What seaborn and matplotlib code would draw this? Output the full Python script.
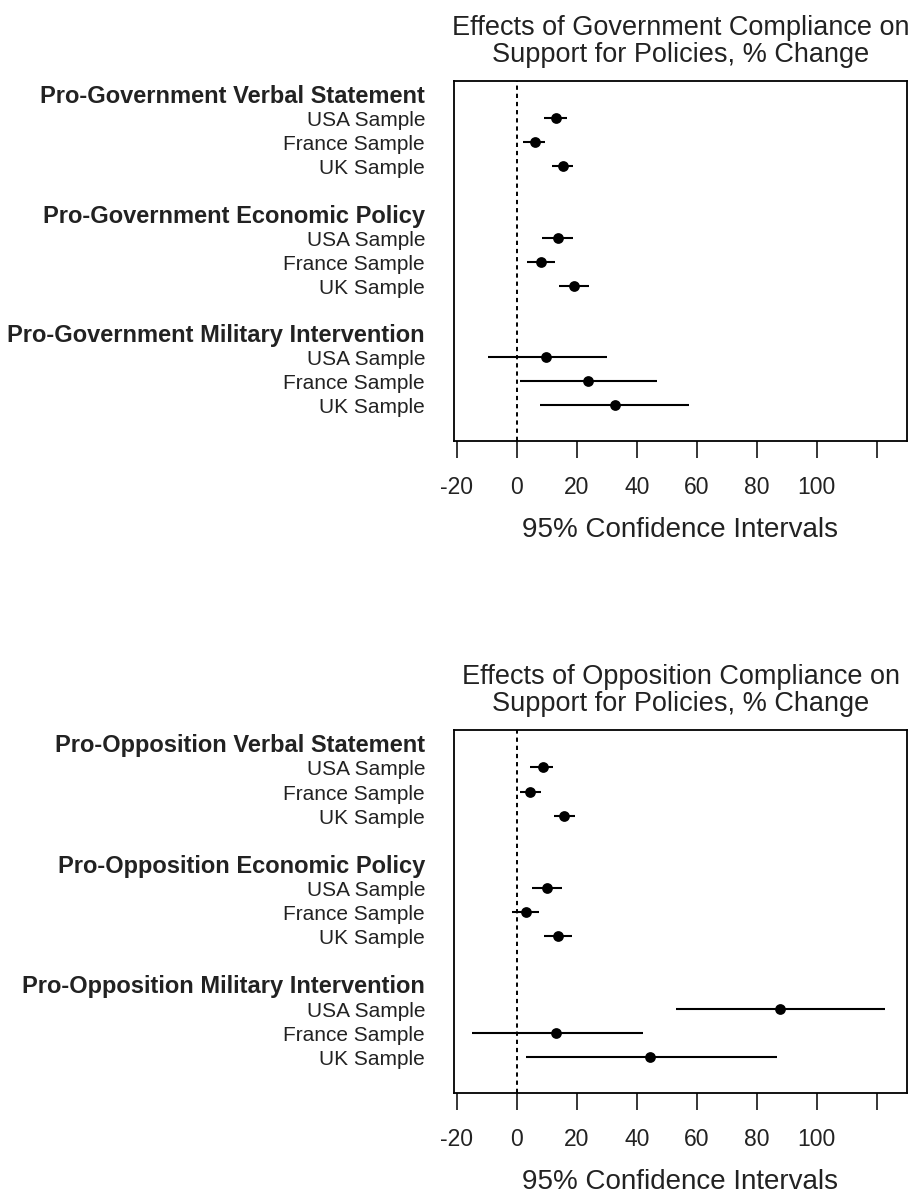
import matplotlib
matplotlib.use("Agg")
import matplotlib.pyplot as plt
import matplotlib.transforms as mtransforms
import seaborn as sns

# ---- data -------------------------------------------------------------
samples = ["USA Sample", "France Sample", "UK Sample"]

gov_groups = ["Pro-Government Verbal Statement",
              "Pro-Government Economic Policy",
              "Pro-Government Military Intervention"]
gov_est = [13.1, 6.0, 15.3, 13.9, 8.0, 19.2, 9.8, 23.9, 32.6]
gov_lo = [9.1, 2.2, 11.7, 8.3, 3.5, 14.2, -9.7, 1.1, 7.8]
gov_hi = [16.9, 9.5, 18.9, 18.9, 12.9, 24.2, 30.2, 46.9, 57.5]

opp_groups = ["Pro-Opposition Verbal Statement",
              "Pro-Opposition Economic Policy",
              "Pro-Opposition Military Intervention"]
opp_est = [8.7, 4.5, 15.9, 10.0, 3.2, 13.9, 87.9, 13.2, 44.5]
opp_lo = [4.4, 1.1, 12.4, 5.1, -1.7, 9.1, 53.1, -15.0, 3.1]
opp_hi = [12.2, 8.1, 19.5, 15.0, 7.5, 18.3, 122.9, 42.1, 86.9]

titles = ["Effects of Government Compliance on\nSupport for Policies, % Change",
          "Effects of Opposition Compliance on\nSupport for Policies, % Change"]
x_ticks = [-20, 0, 20, 40, 60, 80, 100, 120]
x_tick_labels = ["-20", "0", "20", "40", "60", "80", "100", ""]
x_label = "95% Confidence Intervals"

# ---- style ------------------------------------------------------------
sns.set_style("white")
plt.rcParams["font.family"] = ["Liberation Sans", "DejaVu Sans"]
TEXT = "#222222"

fig = plt.figure(figsize=(9.21, 11.96), dpi=100)
W, H = 921, 1196
ax_left = 454.3 / W
ax_width = 452.4 / W
panels = [
    (gov_groups, gov_est, gov_lo, gov_hi, titles[0], 1 - 441 / H, 360 / H),
    (opp_groups, opp_est, opp_lo, opp_hi, titles[1], 1 - 1093 / H, 363 / H),
]

for groups, est, lo, hi, title, bottom, height in panels:
    ax = fig.add_axes([ax_left, bottom, ax_width, height])

    # row layout: a header row per group, three sample rows, one blank row
    rows, header_rows = [], []
    for g in range(len(groups)):
        header_rows.append(5 * g)
        for s in range(len(samples)):
            rows.append(5 * g + 1 + s)

    ax.axvline(0, color="black", lw=1.4, ls=(0, (2.2, 2.0)), zorder=1)
    ax.hlines(rows, lo, hi, color="black", lw=1.5, zorder=2)
    sns.scatterplot(x=est, y=rows, ax=ax, color="black", s=60,
                    edgecolor="black", linewidth=0, zorder=3, legend=False)

    ax.set_xlim(-20.8, 130.0)
    ax.set_ylim(14.5, -0.55)
    ax.set_yticks([])
    ax.set_ylabel("")
    ax.set_xticks(x_ticks)
    ax.set_xticklabels(x_tick_labels)
    ax.tick_params(axis="x", direction="out", length=12.5, width=1.1,
                   pad=13, labelsize=16.5, colors="black", labelcolor=TEXT,
                   bottom=True)
    ax.set_xlabel(x_label, fontsize=20, color=TEXT, labelpad=13)
    for sp in ax.spines.values():
        sp.set_visible(True)
        sp.set_color("black")
        sp.set_linewidth(1.3)
    ax.set_title(title, fontsize=19.5, color=TEXT, pad=13.5, linespacing=1.08)

    # category labels to the left of the panel
    trans = mtransforms.blended_transform_factory(ax.transAxes, ax.transData)
    offset = mtransforms.ScaledTranslation(0, -2.5 / 100, fig.dpi_scale_trans)
    lx = (425 - 454.3) / 452.4
    for g, name in enumerate(groups):
        ax.text(lx, header_rows[g], name, transform=trans + offset,
                ha="right", va="center", fontsize=17, fontweight="bold",
                color=TEXT, clip_on=False)
        for s, smp in enumerate(samples):
            ax.text(lx, 5 * g + 1 + s, smp, transform=trans + offset,
                    ha="right", va="center", fontsize=15, color=TEXT,
                    clip_on=False)

fig.savefig("out.png", dpi=100)
